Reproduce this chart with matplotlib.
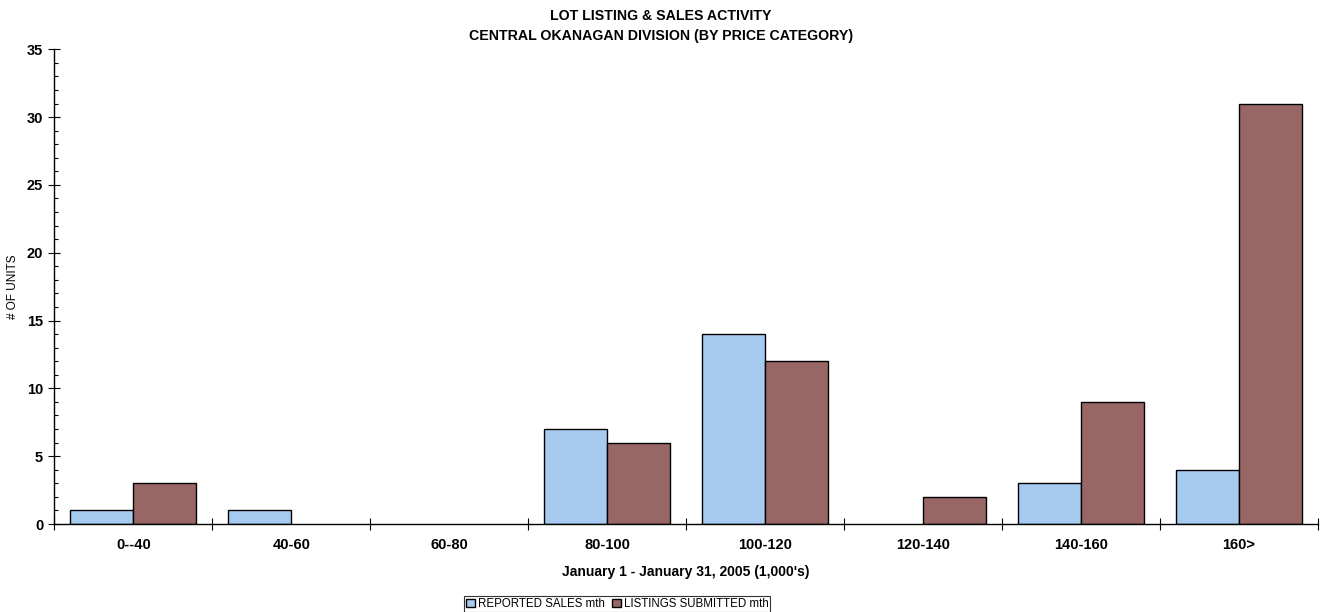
import matplotlib
matplotlib.use("Agg")
import matplotlib.pyplot as plt
from matplotlib.ticker import MultipleLocator, FixedLocator
import numpy as np

categories = ["0--40", "40-60", "60-80", "80-100", "100-120", "120-140", "140-160", "160>"]
reported_sales = [1, 1, 0, 7, 14, 0, 3, 4]
listings_submitted = [3, 0, 0, 6, 12, 2, 9, 31]

plt.rcParams['font.family'] = ['Liberation Sans', 'DejaVu Sans']

fig = plt.figure(figsize=(13.22, 6.12), dpi=100)
ax_left, ax_right, ax_top, ax_bottom = 54.3, 1318.0, 49.3, 524.0
ax = fig.add_axes([ax_left/1322, 1-ax_bottom/612, (ax_right-ax_left)/1322, (ax_bottom-ax_top)/612])

x = np.arange(len(categories))
w = 0.4
b1 = ax.bar(x - w/2, reported_sales, width=w, color="#A6CAF0", edgecolor="black", linewidth=1.0,
            label="REPORTED SALES mth")
b2 = ax.bar(x + w/2, listings_submitted, width=w, color="#996666", edgecolor="black", linewidth=1.0,
            label="LISTINGS SUBMITTED mth")
for bars in (b1, b2):
    for p in bars.patches:
        if p.get_height() == 0:
            p.set_visible(False)

ax.set_xlim(-0.5, len(categories) - 0.5)
ax.set_ylim(0, 35)
ax.spines['top'].set_visible(False)
ax.spines['right'].set_visible(False)
ax.spines['left'].set_linewidth(1.0)
ax.spines['bottom'].set_linewidth(1.0)

ax.set_xticks(x)
ax.set_xticklabels(categories, fontsize=10.5, fontweight='bold')
ax.tick_params(axis='x', which='major', length=0, pad=10)
ax.xaxis.set_minor_locator(FixedLocator(np.arange(-0.5, len(categories), 1.0)))
ax.tick_params(axis='x', which='minor', direction='inout', length=8, width=0.8)

ax.yaxis.set_major_locator(MultipleLocator(5))
ax.yaxis.set_minor_locator(MultipleLocator(1))
ax.tick_params(axis='y', which='major', direction='inout', length=8, width=0.8, labelsize=10.5, pad=4)
ax.tick_params(axis='y', which='minor', direction='in', length=3, width=0.8)
for lbl in ax.get_yticklabels():
    lbl.set_fontweight('bold')

ax.set_ylabel("# OF UNITS", fontsize=8.5)
ax.yaxis.set_label_coords((13 - ax_left)/(ax_right - ax_left), 0.5)
ax.yaxis.label.set_va('center')
ax.set_xlabel("January 1 - January 31, 2005 (1,000's)", fontsize=10, fontweight='bold')
ax.xaxis.set_label_coords(0.5, (ax_bottom - 572)/(ax_bottom - ax_top))
ax.xaxis.label.set_va('center')

fig.text(0.5, 1-16.5/612, "LOT LISTING & SALES ACTIVITY", ha='center', va='center',
         fontsize=10.2, fontweight='bold')
fig.text(0.5, 1-36/612, "CENTRAL OKANAGAN DIVISION (BY PRICE CATEGORY)", ha='center', va='center',
         fontsize=10.2, fontweight='bold')

leg = fig.legend(loc='center', bbox_to_anchor=(617/1322, 1-604/612), ncol=2, fontsize=8.3,
                 frameon=True, fancybox=False, edgecolor='black', handlelength=0.8, handleheight=0.8,
                 handletextpad=0.25, columnspacing=0.6, borderpad=0.15, borderaxespad=0)
leg.get_frame().set_linewidth(0.8)

fig.savefig("out.png", dpi=100)
